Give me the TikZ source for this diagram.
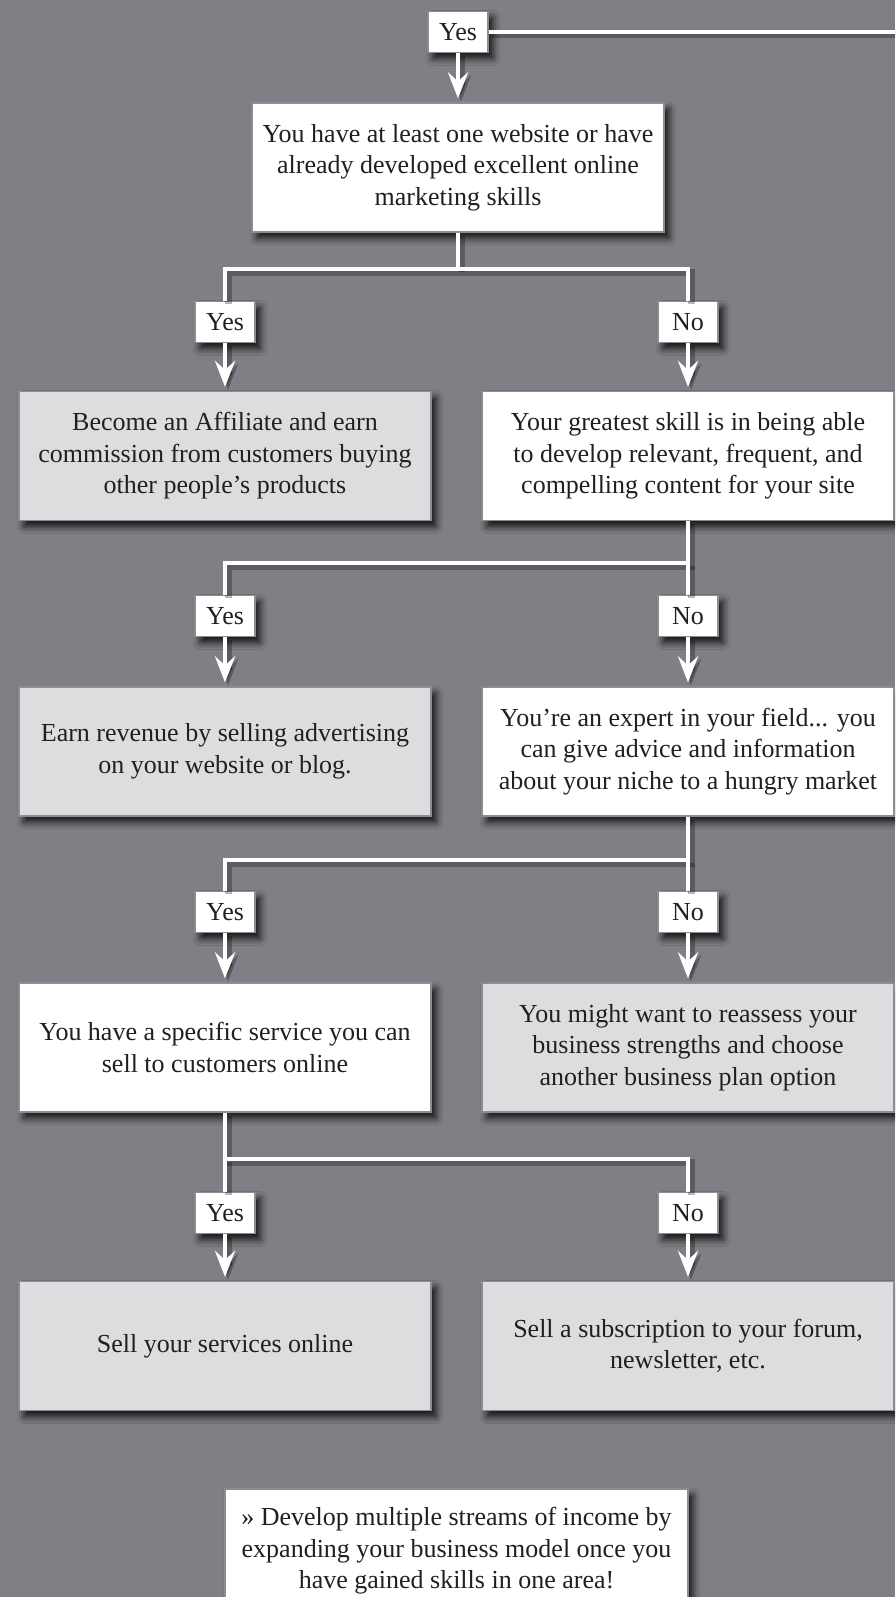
\documentclass[tikz,border=0pt]{standalone}
\usepackage{fontspec}
\setmainfont{Liberation Serif}
\usetikzlibrary{arrows.meta,shadows.blur}
\definecolor{bgc}{RGB}{127,128,133}
\definecolor{boxgray}{RGB}{220,221,223}
\definecolor{boxline}{RGB}{140,141,144}
\definecolor{ink}{RGB}{35,31,32}
\newcommand\lnk[2][]{\draw[lsh,#1] #2; \draw[conn,#1] #2;}
\begin{document}
\begin{tikzpicture}[x=1pt,y=-1pt,
  shad/.style={blur shadow={shadow xshift=5pt,shadow yshift=-6pt,shadow blur radius=7pt,shadow opacity=85}},
  box/.style={draw=boxline,line width=1.2pt,minimum width=412pt,minimum height=129pt,inner sep=0pt,
    align=center,text=ink,font=\fontsize{26}{31.5}\selectfont,shad},
  wbox/.style={box,fill=white},
  gbox/.style={box,fill=boxgray},
  lab/.style={draw=boxline,line width=1.2pt,fill=white,minimum width=60pt,minimum height=41pt,inner sep=0pt,
    text=ink,font=\fontsize{26}{31.5}\selectfont,shad},
  conn/.style={draw=white,line width=4.5pt},
  lsh/.style={draw=black,opacity=0.28,line width=7pt,transform canvas={xshift=3pt,yshift=-3pt}},
  tip/.style={-{Stealth[length=26pt,width=20pt,inset=9pt]},shorten >=4pt}
]
\useasboundingbox (0,0) rectangle (895,1597);
\clip (0,0) rectangle (895,1597);
\fill[bgc] (0,0) rectangle (895,1597);

% nodes
\node[lab] (yt) at (458,32) {Yes};
\coordinate (edge) at (900,32);
\node[wbox] (top) at (458,167.5) {You have at least one website or have\\already developed excellent online\\marketing skills};

\node[lab] (y1) at (225,322) {Yes};
\node[lab] (n1) at (688,322) {No};
\node[gbox] (a1) at (225,456) {Become an Affiliate and earn\\commission from customers buying\\other people’s products};
\node[wbox] (q2) at (688,456) {Your greatest skill is in being able\\to develop relevant, frequent, and\\compelling content for your site};

\node[lab] (y2) at (225,616) {Yes};
\node[lab] (n2) at (688,616) {No};
\node[gbox] (a2) at (225,751.5) {Earn revenue by selling advertising\\on your website or blog.};
\node[wbox] (q3) at (688,751.5) {You’re an expert in your field... you\\can give advice and information\\about your niche to a hungry market};

\node[lab] (y3) at (225,912) {Yes};
\node[lab] (n3) at (688,912) {No};
\node[wbox] (q4) at (225,1047.5) {You have a specific service you can\\sell to customers online};
\node[gbox] (a3) at (688,1047.5) {You might want to reassess your\\business strengths and choose\\another business plan option};

\node[lab] (y4) at (225,1213) {Yes};
\node[lab] (n4) at (688,1213) {No};
\node[gbox] (a4) at (225,1346) {Sell your services online};
\node[gbox] (a5) at (688,1346) {Sell a subscription to your forum,\\newsletter, etc.};

\node[wbox,minimum width=463pt,minimum height=124pt] (tipbox) at (456.5,1551)
  {» Develop multiple streams of income by\\expanding your business model once you\\have gained skills in one area!};

% junction coordinates
\coordinate (b1) at (458,269);
\coordinate (b2) at (688,563);
\coordinate (b3) at (688,860);
\coordinate (b4) at (225,1159);

% connectors
\lnk{(yt.east) -- (edge)}
\lnk[tip]{(yt.south) -- (top.north)}

\lnk{(top.south) -- (b1)}
\lnk{(y1.north) |- (b1) -| (n1.north)}
\lnk[tip]{(y1.south) -- (a1.north)}
\lnk[tip]{(n1.south) -- (q2.north)}

\lnk{(q2.south) -- (b2) -| (y2.north)}
\lnk{(b2) -- (n2.north)}
\lnk[tip]{(y2.south) -- (a2.north)}
\lnk[tip]{(n2.south) -- (q3.north)}

\lnk{(q3.south) -- (b3) -| (y3.north)}
\lnk{(b3) -- (n3.north)}
\lnk[tip]{(y3.south) -- (q4.north)}
\lnk[tip]{(n3.south) -- (a3.north)}

\lnk{(q4.south) -- (b4) -| (n4.north)}
\lnk{(b4) -- (y4.north)}
\lnk[tip]{(y4.south) -- (a4.north)}
\lnk[tip]{(n4.south) -- (a5.north)}
\end{tikzpicture}
\end{document}
